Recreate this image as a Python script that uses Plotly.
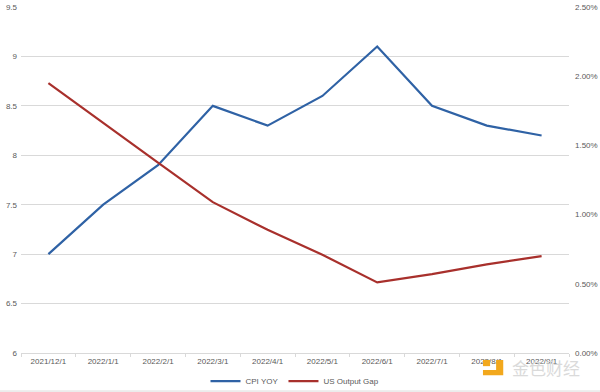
import plotly.graph_objects as go

dates = ["2021/12/1", "2022/1/1", "2022/2/1", "2022/3/1", "2022/4/1",
         "2022/5/1", "2022/6/1", "2022/7/1", "2022/8/1", "2022/9/1"]
cpi_yoy = [7.0, 7.5, 7.9, 8.5, 8.3, 8.6, 9.1, 8.5, 8.3, 8.2]
output_gap = [0.0195, 0.0166, 0.01375, 0.0109, 0.0089, 0.0071, 0.0051, 0.0057, 0.0064, 0.0070]

left_ticks = [6, 6.5, 7, 7.5, 8, 8.5, 9, 9.5]
right_ticks = [0, 0.005, 0.01, 0.015, 0.02, 0.025]

FONT = "Liberation Sans"
GRID = "#d9d9d9"
TXT = "#595959"

fig = go.Figure()
fig.add_trace(go.Scatter(x=dates, y=cpi_yoy, name="CPI YOY", mode="lines",
                         line=dict(color="#2f62a5", width=2.2)))
fig.add_trace(go.Scatter(x=dates, y=output_gap, name="US Output Gap", mode="lines",
                         line=dict(color="#a8302c", width=2.2), yaxis="y2"))

fig.update_layout(
    width=600, height=392,
    margin=dict(l=21, r=31, t=7, b=39, autoexpand=False),
    paper_bgcolor="white", plot_bgcolor="white",
    font=dict(family=FONT, size=8, color=TXT),
    showlegend=True,
    legend=dict(orientation="h", x=0.5, xanchor="center", y=-0.081, yanchor="middle",
                font=dict(size=8, color=TXT), itemwidth=30, tracegroupgap=0,
                bgcolor="rgba(0,0,0,0)"),
    xaxis=dict(type="category", range=[-0.5, 9.5], showgrid=False, automargin=False,
               showline=True, linecolor=GRID, linewidth=1,
               ticks="outside", tickson="boundaries", ticklen=3, tickcolor=GRID,
               tickfont=dict(size=8, color=TXT), fixedrange=True),
    yaxis=dict(range=[6, 9.5], tickvals=left_ticks, showgrid=True, gridcolor=GRID,
               gridwidth=1, zeroline=False, showline=False, ticks="", automargin=False,
               tickfont=dict(size=8, color=TXT), ticklabelstandoff=3),
    yaxis2=dict(range=[0, 0.025], tickvals=right_ticks, tickformat=".2%",
                overlaying="y", side="right", showgrid=False, zeroline=False,
                showline=False, ticks="", automargin=False,
                tickfont=dict(size=8, color=TXT), ticklabelstandoff=5),
)

# bottom border of chart area
fig.add_shape(type="line", xref="paper", yref="paper", x0=-0.04, x1=1.06,
              y0=-0.110, y1=-0.110, line=dict(color="#dcdcdc", width=1))

# watermark
fig.add_shape(type="path", xref="paper", yref="paper",
              path="M 0.843 -0.020 L 0.880 -0.020 L 0.880 -0.064 L 0.843 -0.064 L 0.843 -0.049 L 0.867 -0.049 L 0.867 -0.020 Z",
              fillcolor="#f2a81d", line=dict(width=0))
fig.add_shape(type="rect", xref="paper", yref="paper", x0=0.843, x1=0.856,
              y0=-0.020, y1=-0.038, fillcolor="#f2a81d", line=dict(width=0))
fig.add_annotation(text="金色财经", xref="paper", yref="paper", x=0.892, y=-0.042,
                   xanchor="left", yanchor="middle", showarrow=False,
                   font=dict(family="Noto Sans CJK SC", size=17, color="#dadada"))

fig.write_html("out.html", config={"displayModeBar": False},
               post_script="document.body.style.margin='0';")
